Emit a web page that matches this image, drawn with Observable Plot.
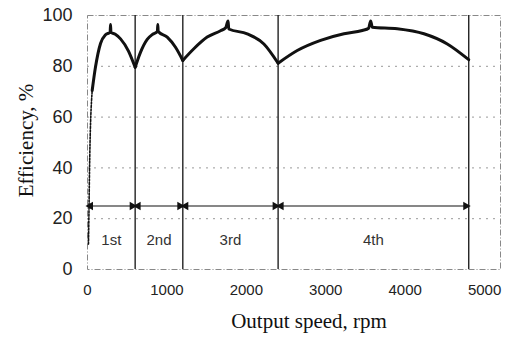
<!DOCTYPE html>
<html>
<head>
<meta charset="utf-8">
<script src="https://cdn.jsdelivr.net/npm/d3@7"></script>
<script src="https://cdn.jsdelivr.net/npm/@observablehq/plot@0.6"></script>
<style>
  html, body { margin: 0; padding: 0; background: #fff; }
  #chart { width: 529px; height: 349px; }
</style>
</head>
<body>
<div id="chart"></div>
<script>
// ---- data ----
const xTicks = [0, 1000, 2000, 3000, 4000, 5000];
const yTicks = [0, 20, 40, 60, 80, 100];
const gridLevels = [20, 40, 60, 80];

const gearNames = ["1st", "2nd", "3rd", "4th"];
const gearStart = [0, 600, 1200, 2400];
const gearEnd = [600, 1200, 2400, 4800];
const shiftLines = [600, 1200, 2400, 4800];
const arrowLevel = 25;
const labelLevel = 11.5;

// steep low-speed start of 1st gear (rpm, efficiency %)
const startRpm = [12, 18, 25, 32, 40, 50, 59];
const startEff = [10, 22, 38, 50, 59, 66, 70.5];

// efficiency curve per gear (rpm, efficiency %)
const gear1Rpm = [59, 100, 164, 227, 285, 290, 295, 350, 416, 516, 600];
const gear1Eff = [70.5, 79.6, 89, 92.4, 93.4, 96.5, 93.4, 92.6, 90.8, 86, 79.6];
const gear2Rpm = [600, 667, 752, 820, 880, 885, 890, 1004, 1108, 1200];
const gear2Eff = [79.6, 85.5, 90.6, 92.6, 93.7, 96.5, 93.7, 91.5, 87.5, 82.3];
const gear3Rpm = [1200, 1339, 1507, 1675, 1740, 1770, 1779, 2011, 2221, 2400];
const gear3Eff = [82.3, 86.9, 91.5, 94, 95.2, 97.8, 94.7, 92.8, 88.8, 81.2];
const gear4Rpm = [2400, 2641, 2935, 3229, 3460, 3540, 3565, 3586, 3900, 4236, 4530, 4800];
const gear4Eff = [81.2, 86.2, 90.2, 92.8, 94.1, 95.0, 97.8, 95.4, 94.8, 92.8, 88.8, 82.6];

// ---- tables built from the arrays ----
const startData = startRpm.map((r, i) => ({rpm: r, eff: startEff[i]}));
const gearCurves = [[gear1Rpm, gear1Eff], [gear2Rpm, gear2Eff], [gear3Rpm, gear3Eff], [gear4Rpm, gear4Eff]];
const curveData = gearCurves.flatMap(([rs, es], g) => rs.map((r, i) => ({gear: gearNames[g], rpm: r, eff: es[i]})));
const gears = gearNames.map((g, i) => ({
  name: g, x1: gearStart[i], x2: gearEnd[i], mid: (gearStart[i] + gearEnd[i]) / 2
}));

const sans = "'Liberation Sans', Arial, Helvetica, sans-serif";
const serif = "'Liberation Serif', 'Times New Roman', serif";

const chart = Plot.plot({
  width: 529,
  height: 349,
  marginLeft: 87,
  marginRight: 29,
  marginTop: 15,
  marginBottom: 80,
  style: {fontFamily: sans, background: "#fff", color: "#222"},
  x: {domain: [0, 5200]},
  y: {domain: [0, 100]},
  marks: [
    Plot.ruleY(gridLevels, {stroke: "#999", strokeWidth: 1, strokeDasharray: "2,5"}),
    Plot.frame({stroke: "#888", strokeWidth: 1, strokeDasharray: "6,2,1,2"}),
    Plot.ruleX(shiftLines, {stroke: "#222", strokeWidth: 1.4}),
    Plot.axisX(xTicks, {tickSize: 0, tickPadding: 15, fontSize: 15, fontFamily: sans, tickFormat: d => String(d), label: null}),
    Plot.axisY(yTicks, {tickSize: 0, tickPadding: 15, fontSize: 18, fontFamily: sans, tickFormat: d => String(d), label: null}),
    // gear range arrows
    Plot.link(gears, {x1: "x1", x2: "x2", y1: arrowLevel, y2: arrowLevel, stroke: "#111", strokeWidth: 1.2}),
    Plot.dot(gears, {x: "x2", y: arrowLevel, symbol: "triangle", r: 3.2, rotate: 90, dx: -3, fill: "#111", stroke: "none"}),
    Plot.dot(gears, {x: "x1", y: arrowLevel, symbol: "triangle", r: 3.2, rotate: -90, dx: 3, fill: "#111", stroke: "none"}),
    Plot.text(gears, {x: "mid", y: labelLevel, text: "name", fontSize: 15, fontFamily: sans, fill: "#333"}),
    // efficiency curve
    Plot.line(startData, {x: "rpm", y: "eff", stroke: "#111", strokeWidth: 1.6, strokeDasharray: "2,1.5", curve: "monotone-x"}),
    Plot.line(curveData, {x: "rpm", y: "eff", z: "gear", stroke: "#111", strokeWidth: 3, strokeLinejoin: "round", strokeLinecap: "round", curve: "monotone-x"}),
    // axis titles
    Plot.text(["Output speed, rpm"], {frameAnchor: "bottom", text: d => d, dy: 58, dx: 15, fontSize: 21, fontFamily: serif, fill: "#111"}),
    Plot.text(["Efficiency, %"], {frameAnchor: "left", textAnchor: "middle", text: d => d, rotate: -90, dx: -61, dy: -2, fontSize: 21, fontFamily: serif, fill: "#111"})
  ]
});
document.getElementById("chart").append(chart);
</script>
</body>
</html>
